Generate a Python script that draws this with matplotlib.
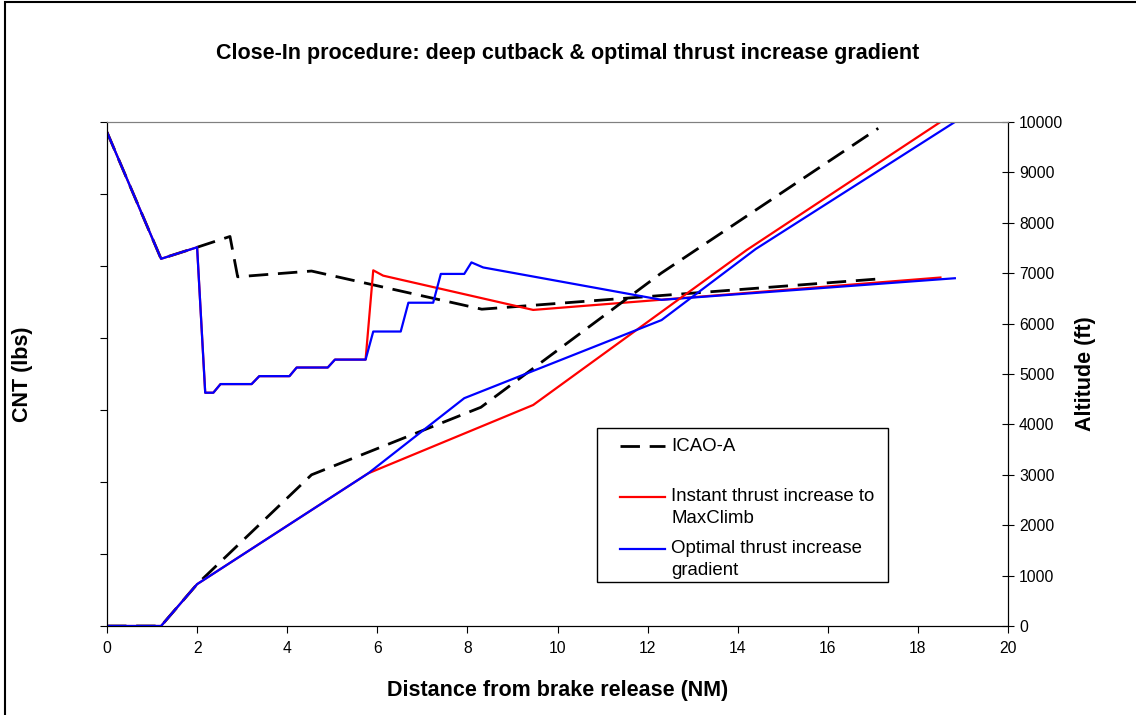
#Close-In procedure chart: thrust (CNT) on left axis, altitude on right axis
import matplotlib.pyplot as plt
from matplotlib.patches import Rectangle
from matplotlib.lines import Line2D

plt.rcParams['font.family'] = ['Liberation Sans', 'DejaVu Sans']

#ICAO-A (dashed)
icao_thr_x = [0, 1.2, 2.0, 2.73, 2.9, 4.54, 8.32, 17.12]
icao_thr = [34300, 25500, 26300, 27050, 24250, 24650, 22000, 24100]
icao_alt_x = [0, 1.2, 2.0, 4.54, 8.3, 12.3, 17.12]
icao_alt = [0, 0, 830, 3000, 4340, 7000, 9875]

#Instant thrust increase to MaxClimb (red)
red_thr_x = [0, 1.2, 2.0, 2.18, 2.36, 2.52, 3.21, 3.38, 4.05, 4.21, 4.9, 5.06, 5.74, 5.91, 6.13, 9.46, 18.5]
red_thr = [34300, 25500, 26300, 16200, 16200, 16800, 16800, 17350, 17350, 17950, 17950, 18500, 18500,
           24700, 24330, 21950, 24200]
red_alt_x = [0, 1.2, 2.0, 5.8, 9.46, 14.2, 18.5]
red_alt = [0, 0, 830, 3030, 4385, 7460, 10000]

#Optimal thrust increase gradient (blue)
blue_thr_x = [0, 1.2, 2.0, 2.18, 2.36, 2.52, 3.21, 3.38, 4.05, 4.21, 4.9, 5.06, 5.74, 5.91, 6.52, 6.69,
              7.24, 7.41, 7.93, 8.09, 8.35, 12.31, 18.82]
blue_thr = [34300, 25500, 26300, 16200, 16200, 16800, 16800, 17350, 17350, 17950, 17950, 18500, 18500,
            20450, 20450, 22450, 22450, 24450, 24450, 25250, 24900, 22650, 24150]
blue_alt_x = [0, 1.2, 2.0, 5.8, 7.93, 12.31, 14.4, 18.82]
blue_alt = [0, 0, 830, 3030, 4520, 6070, 7480, 10000]

labels = ['ICAO-A', 'Instant thrust increase to\nMaxClimb', 'Optimal thrust increase\ngradient']

fig = plt.figure(figsize=(11.36, 7.15), dpi=100)
ax = fig.add_axes([107/1136, 89/715, 901/1136, 504/715])
ax2 = ax.twinx()

dash = (0, (7, 3.5))
styles = [('black', 2, dash), ('red', 1.6, '-'), ('blue', 1.6, '-')]

for (c, w, ls), xs, ys in zip(styles, [icao_thr_x, red_thr_x, blue_thr_x], [icao_thr, red_thr, blue_thr]):
    ax.plot(xs, ys, color=c, lw=w, linestyle=ls)
for (c, w, ls), xs, ys in zip(styles, [icao_alt_x, red_alt_x, blue_alt_x], [icao_alt, red_alt, blue_alt]):
    ax2.plot(xs, ys, color=c, lw=w, linestyle=ls)

ax.set_xlim(0, 20)
ax.set_xticks(range(0, 21, 2))
ax.set_ylim(0, 35000)
ax.set_yticks(range(0, 35001, 5000))
ax.set_yticklabels([])
ax2.set_ylim(0, 10000)
ax2.set_yticks(range(0, 10001, 1000))

ax.tick_params(axis='x', direction='out', length=5, labelsize=11.3, pad=6)
ax.tick_params(axis='y', direction='out', length=5)
ax2.tick_params(axis='y', direction='inout', length=8, labelsize=11.3, pad=4)

for a in (ax, ax2):
    a.spines['top'].set_color('#808080')
    a.spines['left'].set_color('black')
    a.spines['bottom'].set_color('black')
    a.spines['right'].set_color('black')

ax.set_xlabel('Distance from brake release (NM)', fontsize=15.5, fontweight='bold')
ax.xaxis.set_label_coords(0.5, -0.107)
ax.set_ylabel('CNT (lbs)', fontsize=15.5, fontweight='bold')
ax.yaxis.set_label_coords(-0.082, 0.5)
ax2.set_ylabel('Altitude (ft)', fontsize=15.5, fontweight='bold')
ax2.yaxis.set_label_coords(1.074, 0.5)

fig.text(0.5, 1 - 54/715, 'Close-In procedure: deep cutback & optimal thrust increase gradient',
         ha='center', va='center', fontsize=15.5, fontweight='bold')

#legend like Excel: handle aligned with first text line
ax2.add_patch(Rectangle((0.544, 0.087), 0.323, 0.306, transform=ax2.transAxes,
                        fill=False, ec='black', lw=1, zorder=5))
leg_y = [0.357, 0.256, 0.1528]
line_h = 22 / 504
for (c, w, ls), lab, y in zip(styles, labels, leg_y):
    ax2.add_line(Line2D([0.5694, 0.6193], [y, y], transform=ax2.transAxes,
                        color=c, lw=w, linestyle=ls, zorder=6))
    for j, part in enumerate(lab.split('\n')):
        ax2.text(0.626, y - j * line_h, part, transform=ax2.transAxes,
                 va='center', ha='left', fontsize=13.4, zorder=6)

#outer chart border
fig.patches.append(Rectangle((4.5/1136, -0.1), 2, 1.1 - 1.5/715, transform=fig.transFigure,
                             fill=False, ec='black', lw=1.5))

fig.savefig('out.png', dpi=100)
